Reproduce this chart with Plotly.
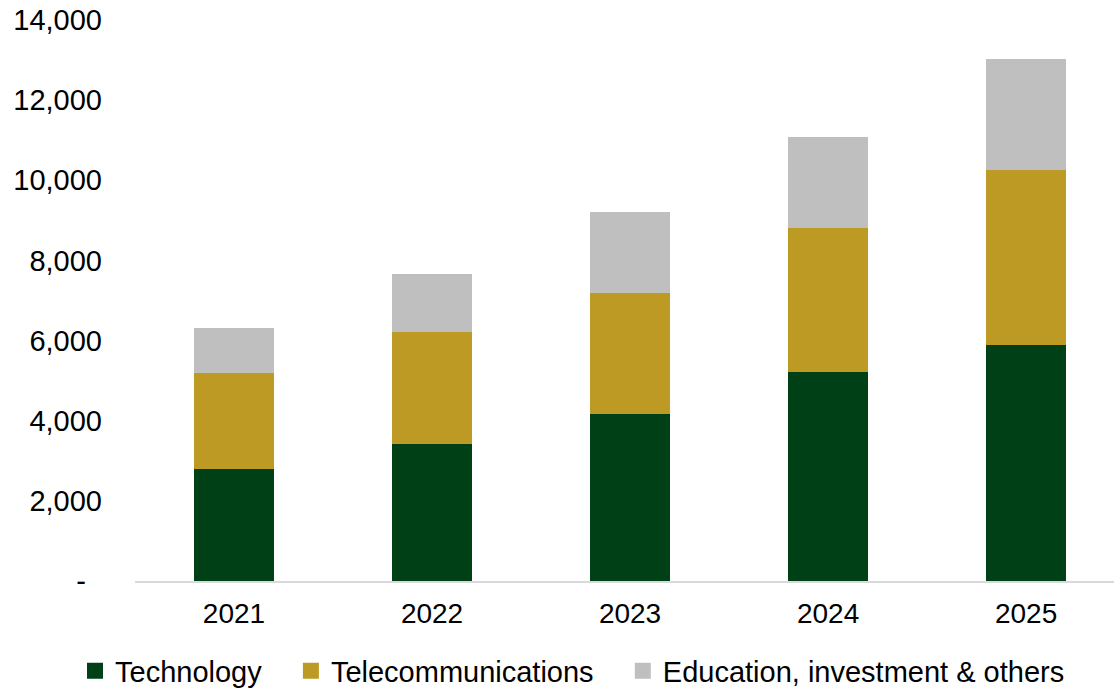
import plotly.graph_objects as go

years = ["2021", "2022", "2023", "2024", "2025"]
technology = [2800, 3410, 4160, 5220, 5900]
telecommunications = [2390, 2810, 3020, 3590, 4360]
education_investment_others = [1130, 1440, 2020, 2270, 2760]

y_tick_values = [0, 2000, 4000, 6000, 8000, 10000, 12000, 14000]
y_tick_labels = ["-\u00a0\u00a0", "2,000", "4,000", "6,000", "8,000", "10,000", "12,000", "14,000"]

PAD = "\u00a0" * 3
series = [
    ("Technology", technology, "#004016", PAD),
    ("Telecommunications", telecommunications, "#BC9A23", PAD),
    ("Education, investment & others", education_investment_others, "#BFBFBF", ""),
]

FONT = "Liberation Sans, Arial, sans-serif"
W, H = 1114, 688
M_L, M_R, M_T, M_B = 135, 0, 20, 107
PLOT_W, PLOT_H = W - M_L - M_R, H - M_T - M_B

fig = go.Figure()
for name, values, color, _ in series:
    fig.add_trace(go.Bar(
        x=years, y=values, name=name, marker=dict(color=color, line=dict(width=0)),
        showlegend=False, legendgroup=name,
    ))
# legend entries with larger square swatches
for name, values, color, pad in series:
    fig.add_trace(go.Scatter(
        x=[None], y=[None], mode="markers", name=name + pad, legendgroup=name,
        marker=dict(symbol="square", size=16, color=color),
    ))

fig.update_layout(
    width=W, height=H,
    margin=dict(l=M_L, r=M_R, t=M_T, b=M_B, autoexpand=False),
    barmode="stack", bargap=0.6,
    plot_bgcolor="white", paper_bgcolor="white",
    font=dict(family=FONT, size=29, color="#000000"),
    showlegend=True,
    legend=dict(
        orientation="h",
        x=(75 - M_L) / PLOT_W, y=-(671 - (H - M_B)) / PLOT_H,
        xanchor="left", yanchor="middle",
        font=dict(family=FONT, size=29, color="#000000"),
        itemsizing="trace", traceorder="normal",
        bgcolor="rgba(0,0,0,0)", borderwidth=0,
    ),
)
fig.update_xaxes(
    type="category", range=[-0.5, 4.444],
    showgrid=False, showline=True, linecolor="#D9D9D9", linewidth=1.5,
    ticks="", ticklabelstandoff=7,
    tickfont=dict(family=FONT, size=28, color="#000000"),
)
fig.update_yaxes(
    range=[0, 14000], tickvals=y_tick_values, ticktext=y_tick_labels,
    showgrid=False, showline=False, zeroline=False, ticks="",
    ticklabelstandoff=32,
    tickfont=dict(family=FONT, size=29, color="#000000"),
)

fig.write_html("out.html")
